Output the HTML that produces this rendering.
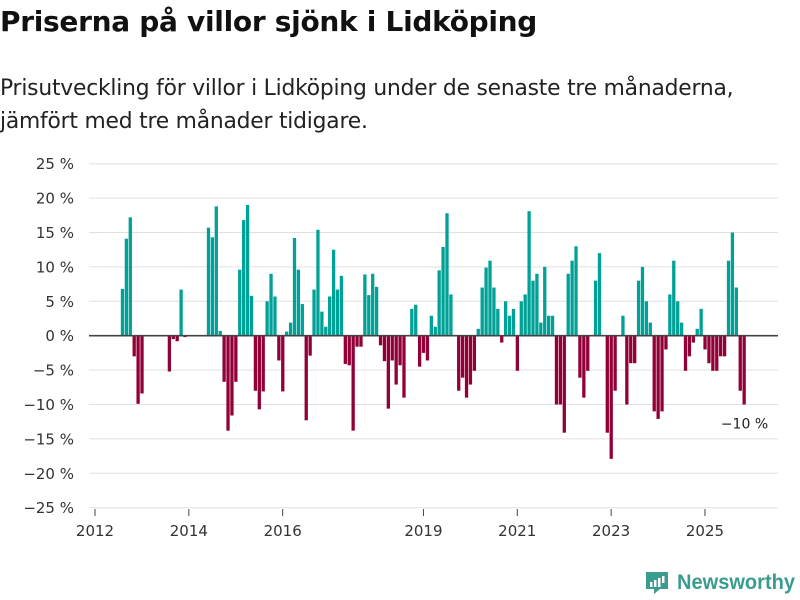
<!DOCTYPE html>
<html><head><meta charset="utf-8">
<style>
body{margin:0;background:#fff;width:800px;height:600px;overflow:hidden;font-family:"Liberation Sans","DejaVu Sans",sans-serif;}
#title{position:absolute;left:0;top:5px;font-size:28px;font-weight:bold;color:#111;font-family:"DejaVu Sans","Liberation Sans",sans-serif;letter-spacing:-0.3px}
#sub{position:absolute;left:0;top:72px;font-size:21.8px;line-height:33px;color:#222;font-family:"DejaVu Sans","Liberation Sans",sans-serif;letter-spacing:-0.2px}
svg{position:absolute;left:0;top:0}
</style></head><body>
<div id="title">Priserna på villor sjönk i Lidköping</div>
<div id="sub">Prisutveckling för villor i Lidköping under de senaste tre månaderna,<br>jämfört med tre månader tidigare.</div>
<svg id="chart" width="800" height="600"></svg>
<script>
const yTicks=[25,20,15,10,5,0,-5,-10,-15,-20,-25];
const yearTicks=[2012,2014,2016,2019,2021,2023,2025];
const startYear=2012;
const values=[null,null,null,null,null,null,
6.8,14.1,17.2,-3.0,-9.9,-8.4,
null,null,null,null,null,null,
-5.2,-0.5,-0.8,6.7,-0.2,
null,null,null,null,null,
15.7,14.3,18.8,0.7,-6.7,-13.8,-11.6,-6.7,9.6,16.8,19.0,5.8,-8.0,-10.7,-8.1,5.0,9.0,5.7,-3.6,-8.1,0.6,1.9,14.2,9.6,4.6,-12.3,
-2.9,6.7,15.4,3.5,1.3,5.7,12.5,6.7,8.7,-4.1,-4.3,-13.8,-1.6,-1.6,8.9,5.9,9.0,7.1,-1.4,-3.7,-10.6,-3.6,-7.1,-4.3,-9.0,
null,
3.9,4.5,-4.5,-2.5,-3.6,2.9,1.3,9.5,12.9,17.8,6.0,
null,
-8.0,-6.1,-9.0,-7.1,-5.1,1.0,7.0,9.9,10.9,7.0,3.9,-1.0,5.0,2.9,3.9,-5.1,5.0,6.0,18.1,8.0,9.0,1.9,10.0,2.9,2.9,-10,-10,-14.1,9.0,10.9,13.0,-6.1,-9.0,-5.1,
null,
8.0,12.0,
null,
-14.1,-17.9,-8.0,
null,
2.9,-10.0,-4.0,-4.0,
8.0,10.0,5.0,1.9,-11.0,-12.1,-11.0,-2.0,6.0,10.9,5.0,1.9,-5.1,-3.0,-1.0,1.0,3.9,-2.0,-4.0,-5.1,-5.1,-3.0,-3.0,10.9,15.0,7.0,-8.0,-10.0];
const lastLabel="−10 %";

const NS="http://www.w3.org/2000/svg";
const svg=document.getElementById('chart');
const x0=95, pxMonth=3.91;
function xScale(m){return x0+m*pxMonth;}
function yScale(v){return 335.7-v*6.88;}
function mk(tag,attrs,parent){const e=document.createElementNS(NS,tag);for(const k in attrs)e.setAttribute(k,attrs[k]);(parent||svg).appendChild(e);return e;}

yTicks.forEach(t=>{
  const y=yScale(t);
  if(t!==0){
    const g=mk('line',{x1:89,x2:778,y1:y,y2:y,stroke:'#e0e0e0','stroke-width':1});
    
    
  }
  const tx=mk('text',{x:74,y:y+5.5,'text-anchor':'end','font-size':15,fill:'#333','font-family':'DejaVu Sans, Liberation Sans, sans-serif'});
  tx.textContent=(t<0?'−'+(-t):t)+' %';
  
  
});

values.forEach((v,m)=>{
  if(v===null)return;
  const x=xScale(m+0.6);
  const y=yScale(Math.max(v,0)), h=Math.abs(yScale(v)-yScale(0));
  const r=mk('rect',{x:x.toFixed(2),y:y.toFixed(2),width:3.3,height:Math.max(h,0.5).toFixed(2),fill:v>=0?'#00a196':'#920038'});
  
  
});

const zl=mk('line',{x1:89,x2:778,y1:yScale(0),y2:yScale(0),stroke:'#444','stroke-width':1.6});



yearTicks.forEach(yr=>{
  const x=xScale((yr-startYear)*12);
  const tk=mk('line',{x1:x,x2:x,y1:509,y2:516,stroke:'#444','stroke-width':1});
  
  
  const tx=mk('text',{x:x,y:536,'text-anchor':'middle','font-size':15,fill:'#333','font-family':'DejaVu Sans, Liberation Sans, sans-serif'});
  tx.textContent=yr;
  
  
});

const li=values.length-1;
const ll=mk('text',{x:xScale(li+0.6)+2,y:yScale(values[li])+24,'text-anchor':'middle','font-size':14,fill:'#222','font-family':'DejaVu Sans, Liberation Sans, sans-serif'});
ll.textContent=lastLabel;



const logo=mk('g',{});


mk('path',{d:'M646 572 h22 v17 h-8 l-6 5 v-5 h-8 z',fill:'#3a9c8f'},logo);
mk('rect',{x:650,y:582,width:2.5,height:5,fill:'#fff'},logo);
mk('rect',{x:654,y:580,width:2.5,height:7,fill:'#fff'},logo);
mk('rect',{x:658,y:578,width:2.5,height:9,fill:'#fff'},logo);
mk('rect',{x:662,y:576,width:2.5,height:7,fill:'#fff'},logo);
const lt=mk('text',{x:677,y:589,'font-size':21,'font-weight':'bold',fill:'#3a9c8f','font-family':'Liberation Sans, sans-serif',textLength:118,lengthAdjust:'spacingAndGlyphs'},logo);
lt.textContent='Newsworthy';
</script>
</body></html>
